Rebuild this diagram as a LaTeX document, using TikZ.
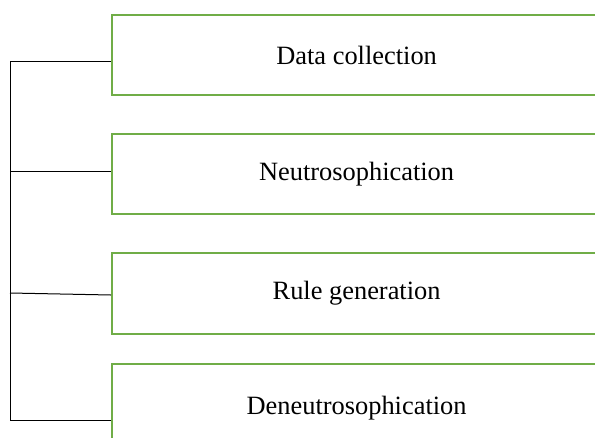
\documentclass[tikz,border=0pt]{standalone}
\usepackage{fontspec}
\setmainfont{Liberation Serif}
\definecolor{boxgreen}{HTML}{70AD47}
\begin{document}
\begin{tikzpicture}[x=1pt,y=-1pt,
  stage/.style={draw=boxgreen, line width=2.2pt, rectangle, minimum width=489pt,
    inner sep=0pt, font=\fontsize{26.4}{30}\selectfont, anchor=north west},
  link/.style={draw=black, line width=1pt}]
\useasboundingbox (0,0) rectangle (595,437);
\clip (0,0) rectangle (595,437);
\node[stage, minimum height=80pt] (b1) at (111,14) {Data collection};
\node[stage, minimum height=80pt] (b2) at (111,133) {Neutrosophication};
\node[stage, minimum height=81pt] (b3) at (111,252) {Rule generation};
\node[stage, minimum height=88pt] (b4) at (111,363) {Deneutrosophication};
\coordinate (s1) at (10,61);
\coordinate (s2) at (10,171);
\coordinate (s3) at (10,293);
\coordinate (s4) at (10,420);
\coordinate (e3) at (111,295);
\draw[link] (s1) -- (s4);
\draw[link] (s1) -- (s1 -| b1.west);
\draw[link] (s2) -- (s2 -| b2.west);
\draw[link] (s3) -- (e3);
\draw[link] (s4) -- (s4 -| b4.west);
\end{tikzpicture}
\end{document}
